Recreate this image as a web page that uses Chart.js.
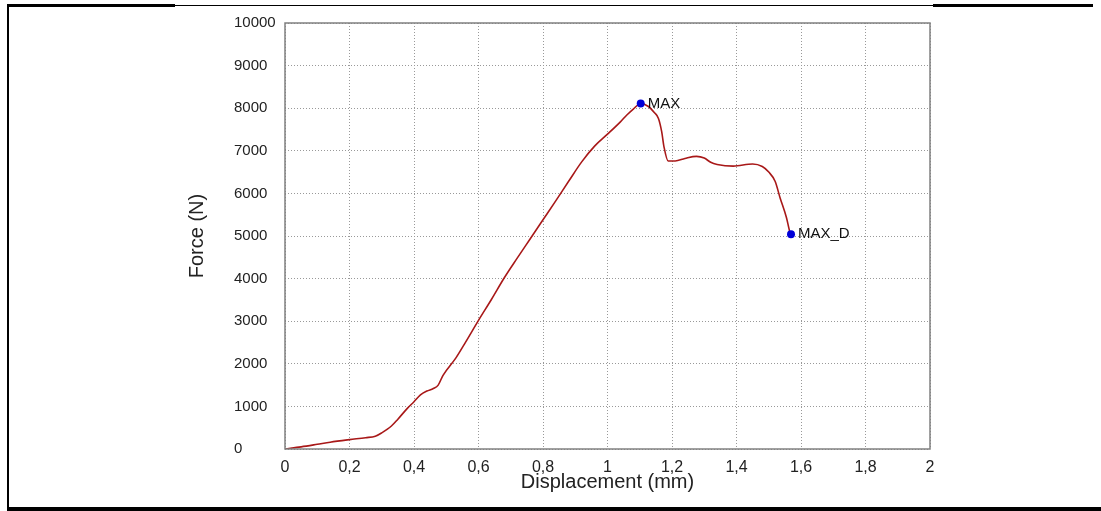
<!DOCTYPE html>
<html>
<head>
<meta charset="utf-8">
<script src="https://cdn.jsdelivr.net/npm/chart.js@4.4.1/dist/chart.umd.min.js"></script>
<style>
  body { margin: 0; background: #fff; }
  #wrap { position: relative; width: 1101px; height: 511px; }
  #myChart { position: absolute; left: 0; top: 0; }
  .line { position: absolute; background: #000; }
</style>
</head>
<body>
<div id="wrap">
  <canvas id="myChart" width="1101" height="511"></canvas>
  <div class="line" style="left:7px;top:4px;width:168px;height:3px"></div>
  <div class="line" style="left:175px;top:5px;width:758px;height:1px"></div>
  <div class="line" style="left:933px;top:4px;width:160px;height:3px"></div>
  <div class="line" style="left:7px;top:4px;width:2px;height:507px"></div>
  <div class="line" style="left:7px;top:507px;width:1094px;height:4px"></div>
</div>
<script>
// displacement (mm) and force (N)
const disp = [0, 0.05, 0.1, 0.14, 0.2, 0.25, 0.28, 0.3, 0.33, 0.35, 0.38, 0.4, 0.42, 0.44, 0.46, 0.475,
  0.49, 0.53, 0.56, 0.6, 0.64, 0.68, 0.72, 0.76, 0.8, 0.84, 0.88, 0.92, 0.96, 1.0, 1.04, 1.06, 1.08, 1.103,
  1.127, 1.145, 1.158, 1.168, 1.175, 1.188, 1.21, 1.24, 1.276, 1.3, 1.32, 1.34, 1.39, 1.45, 1.48, 1.5,
  1.52, 1.535, 1.555, 1.566, 1.569];
const force = [0, 50, 110, 160, 220, 265, 300, 380, 540, 700, 960, 1110, 1270, 1360, 1420, 1500,
  1730, 2140, 2510, 3020, 3510, 4020, 4480, 4930, 5380, 5830, 6290, 6740, 7110, 7390, 7680, 7840, 7980, 8112,
  8040, 7900, 7760, 7450, 7100, 6760, 6760, 6820, 6870, 6830, 6730, 6680, 6640, 6690, 6630, 6500,
  6280, 5900, 5430, 5080, 5040];

const markerNames = ['MAX', 'MAX_D'];
const markerDisp = [1.103, 1.569];
const markerForce = [8112, 5040];

const xTicks = [0, 0.2, 0.4, 0.6, 0.8, 1, 1.2, 1.4, 1.6, 1.8, 2];

const curve = disp.map((d, i) => ({x: d, y: force[i]}));
const markers = markerDisp.map((d, i) => ({x: d, y: markerForce[i]}));

// solid frame around plot + marker labels
const framePlugin = {
  id: 'frame',
  afterDraw(chart) {
    const {ctx, chartArea: a} = chart;
    ctx.save();
    ctx.strokeStyle = '#808080';
    ctx.lineWidth = 1.5;
    ctx.strokeRect(a.left, a.top, a.right - a.left, a.bottom - a.top);
    const meta = chart.getDatasetMeta(1);
    ctx.fillStyle = '#111';
    ctx.font = '15px "Liberation Sans", Arial, sans-serif';
    ctx.textBaseline = 'middle';
    meta.data.forEach((p, i) => {
      ctx.fillText(markerNames[i], p.x + 7, p.y);
    });
    ctx.restore();
  }
};

Chart.defaults.font.family = '"Liberation Sans", Arial, sans-serif';
Chart.defaults.color = '#222';

var ctx = document.getElementById('myChart');
var myChart = new Chart(ctx, {
  type: 'line',
  data: {
    datasets: [{
      data: curve,
      borderColor: '#a81818',
      borderWidth: 1.6,
      pointRadius: 0,
      cubicInterpolationMode: 'monotone',
      order: 2
    }, {
      data: markers,
      showLine: false,
      pointRadius: 4,
      pointBackgroundColor: '#0000d8',
      pointBorderWidth: 0,
      order: 1
    }]
  },
  options: {
    responsive: false,
    animation: false,
    layout: { padding: { left: 234, right: 171, top: 21, bottom: 0 } },
    plugins: { legend: { display: false }, tooltip: { enabled: false } },
    scales: {
      x: {
        type: 'linear',
        min: 0, max: 2,
        afterBuildTicks(scale) { scale.ticks = xTicks.map(v => ({value: v})); },
        afterFit(scale) { scale.height = 62; },
        ticks: {
          font: { size: 16 },
          padding: 9,
          callback: v => String(v).replace('.', ',')
        },
        grid: { color: '#999', drawTicks: false },
        border: { display: false, dash: [1, 2] },
        title: {
          display: true,
          text: 'Displacement (mm)',
          font: { size: 20 },
          color: '#222',
          padding: { top: 0, bottom: 17 }
        }
      },
      y: {
        min: 0, max: 10000,
        afterFit(scale) { scale.width = 51; },
        ticks: {
          stepSize: 1000,
          font: { size: 15 },
          crossAlign: 'far',
          padding: 14,
          callback: v => String(v)
        },
        grid: { color: '#999', drawTicks: false },
        border: { display: false, dash: [1, 2] },
        title: {
          display: true,
          text: 'Force (N)',
          font: { size: 20 },
          color: '#222',
          padding: { top: -49, bottom: 0 }
        }
      }
    }
  },
  plugins: [framePlugin]
});
</script>
</body>
</html>
